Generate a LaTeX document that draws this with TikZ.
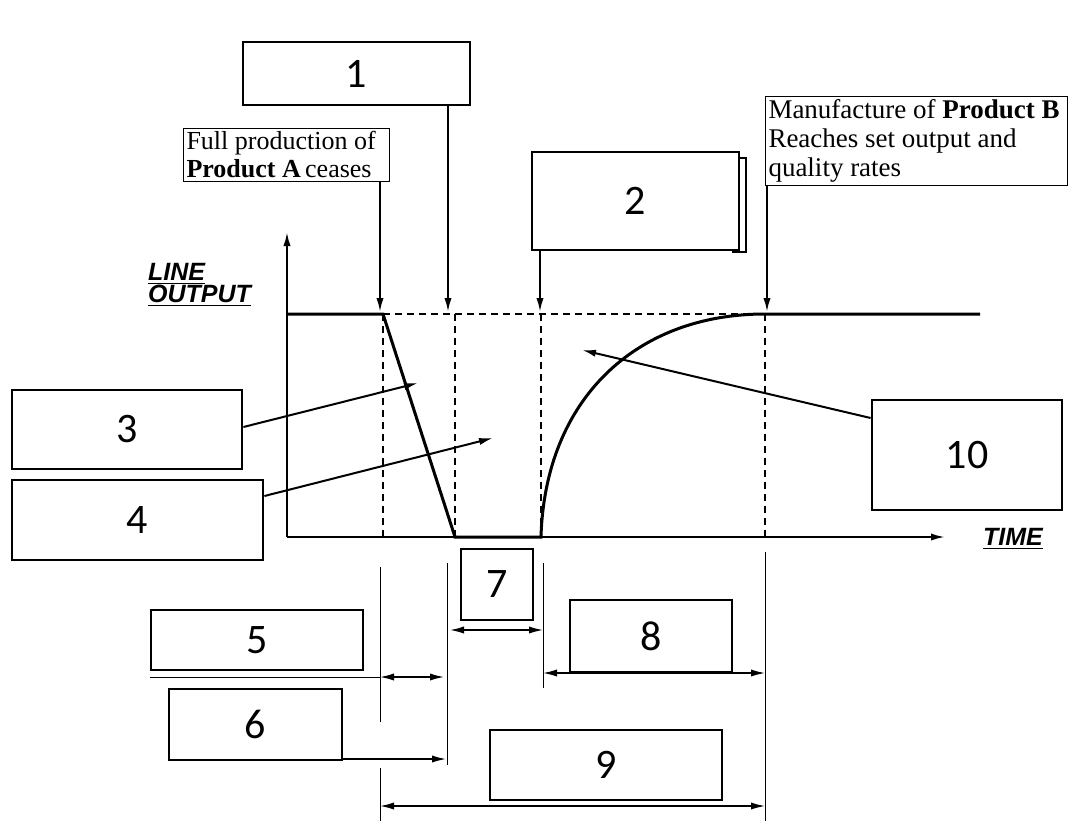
\documentclass[tikz,border=0pt]{standalone}
\usepackage{fontspec}
\setmainfont{Liberation Serif}
\newfontfamily\numfont{Carlito}
\newfontfamily\axisfont{Liberation Sans}
\usetikzlibrary{fit,arrows.meta}
\begin{document}
\begin{tikzpicture}[x=0.5pt, y=-0.5pt, >={Latex[length=7pt,width=3.6pt]}]

  \tikzset{
    numbox/.style={draw, line width=1.4pt, fill=white, inner sep=0pt,
      label={[numtext]center:#1}},
    numtext/.style={inner sep=0pt, font=\numfont\fontsize{21}{24}\selectfont},
    notebox/.style={draw, line width=0.5pt, inner sep=1.5pt, align=flush left,
      anchor=north west, font=\fontsize{13.5}{14.5}\selectfont},
    axislabel/.style={font=\axisfont\bfseries\itshape\fontsize{12.5}{13}\selectfont,
      align=left},
    curve/.style={line width=1.5pt},
    guide/.style={line width=1pt, dash pattern=on 3.5pt off 2.5pt},
    callout/.style={->, line width=1pt},
    dimline/.style={<->, line width=0.7pt},
    extline/.style={line width=0.5pt}
  }

  \useasboundingbox (0,0) rectangle (1073,821);

  % axes
  \coordinate (o) at (287,537);
  \draw[line width=1pt, ->] (o) -- (287,232);
  \draw[line width=1pt, ->] (o) -- (945,537);
  \node[axislabel, anchor=west] (lineout) at (141,285) {\underline{LINE}\\[-2pt]\underline{OUTPUT}};
  \node[axislabel] (time) at (1013,539) {\underline{TIME}};

  % key instants on the output level
  \coordinate (tA) at (383,314);
  \coordinate (tB) at (455,314);
  \coordinate (tC) at (541,314);
  \coordinate (tD) at (765,314);

  % dashed guides
  \draw[guide] (tA) -- (tD);
  \foreach \t in {tA,tB,tC,tD}
  \draw[guide] (\t) -- (\t |- o);

  % line output: run-down, stop, run-up
  \draw[curve] (287,314) -- (tA) -- (455,537) -- (541,537)
    .. controls (545,400) and (635,314) .. (tD) -- (980,314);

  % notes above the graph
  \node[notebox, text width=100pt, font=\fontsize{13}{14}\selectfont] (ceaseA) at (183,128)
    {Full production of\\\textbf{Product A}\,ceases};
  \node[notebox, text width=148pt] (reachB) at (765,96)
    {Manufacture of \textbf{Product B}\\Reaches set output and\\quality rates};
  \draw[callout] (ceaseA.south -| 380,0) -- (380,312);
  \draw[callout] (reachB.south -| 767,0) -- (767,312);

  % numbered boxes
  \node[numbox=1, fit={(243,42) (470,105)}] (b1) {};
  \filldraw[fill=white, draw=black, line width=1pt] (733,158) rectangle (746,252);
  \node[numbox=2, fit={(532,152) (739,250)}] (b2) {};
  \node[numbox=3, fit={(12,390) (242,469)}] (b3) {};
  \node[numbox=4, fit={(12,480) (263,560)}] (b4) {};
  \node[numbox=5, fit={(151,610) (363,670)}] (b5) {};
  \node[numbox=6, fit={(169,689) (342,760)}] (b6) {};
  \node[numbox=7, fit={(461,549) (533,620)}] (b7) {};
  \node[numbox=8, fit={(570,600) (732,672)}] (b8) {};
  \node[numbox=9, fit={(490,730) (722,800)}] (b9) {};
  \node[numbox=10, fit={(872,400) (1062,510)}] (b10) {};

  % callouts
  \draw[callout] (b1.south -| 448,0) -- (448,312);
  \draw[callout] (b2.south -| 540,0) -- (540,312);
  \draw[callout] (b3.east |- 0,427) -- (418,383);
  \draw[callout] (b4.east |- 0,496) -- (493,438);
  \draw[callout] (b10.west |- 0,418) -- (582,350);

  % extension lines below the time axis
  \draw[extline] (380,567) -- (380,722);
  \draw[extline] (380,768) -- (380,821);
  \draw[extline] (447,563) -- (447,765);
  \draw[extline] (543,563) -- (543,688);
  \draw[extline] (765,552) -- (765,821);

  % durations
  \draw[dimline] (450,630) -- (543,630);
  \draw[extline] (b5.south west |- 0,677) -- (380,677);
  \draw[dimline] (380,677) -- (444,677);
  \draw[callout, line width=0.7pt] (b6.east |- 0,759) -- (446,759);
  \draw[dimline] (543,673) -- (765,673);
  \draw[dimline] (380,806) -- (765,806);

\end{tikzpicture}
\end{document}
